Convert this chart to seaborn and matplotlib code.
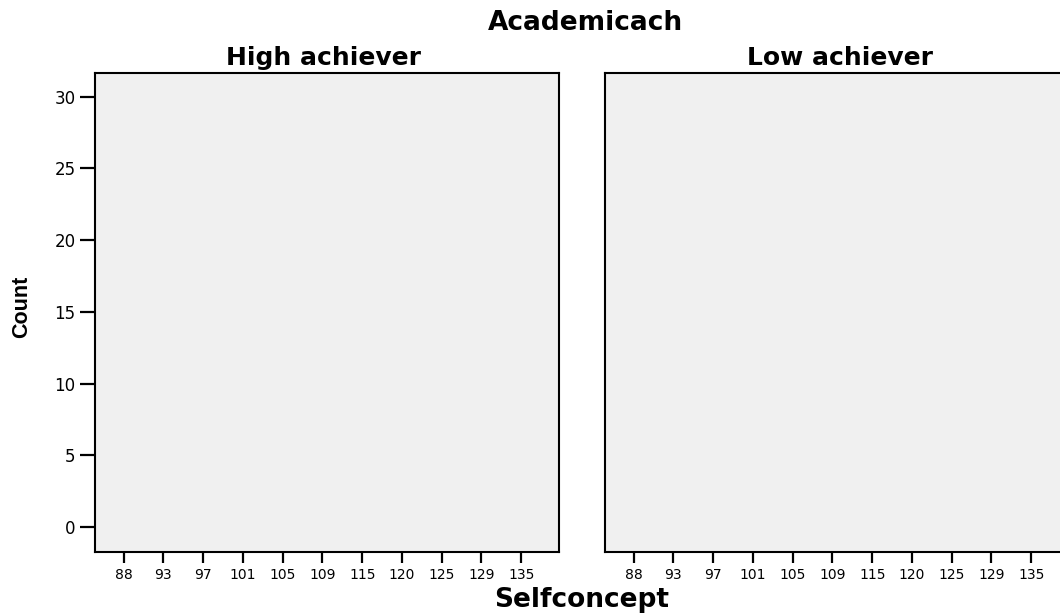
import matplotlib
matplotlib.use("Agg")
import matplotlib.pyplot as plt
import seaborn as sns
import pandas as pd

# Data (both panels are empty in the reference: every count is 0)
selfconcept = ["88", "93", "97", "101", "105", "109", "115", "120", "125", "129", "135"]
high_counts = [0, 0, 0, 0, 0, 0, 0, 0, 0, 0, 0]
low_counts = [0, 0, 0, 0, 0, 0, 0, 0, 0, 0, 0]
groups = ["High achiever", "Low achiever"]
y_ticks = [0, 5, 10, 15, 20, 25, 30]

sns.set_theme(style="white")
plt.rcParams['font.family'] = ['DejaVu Sans']
plt.rcParams['text.color'] = 'black'
plt.rcParams['xtick.color'] = 'black'
plt.rcParams['ytick.color'] = 'black'

W, H = 1060, 614
fig = plt.figure(figsize=(W / 100, H / 100), dpi=100)

def fx(px):
    return px / W

def fy(py):
    return 1 - py / H

ax_top, ax_bot = 73, 552
panel_w = 464
lefts = [95, 605]
title_x = [323, 840]
data = {groups[0]: high_counts, groups[1]: low_counts}

for i, (g, left) in enumerate(zip(groups, lefts)):
    ax = fig.add_axes([fx(left), fy(ax_bot), fx(panel_w), (ax_bot - ax_top) / H])
    df = pd.DataFrame({"Selfconcept": selfconcept, "Count": data[g]})
    sns.barplot(data=df, x="Selfconcept", y="Count", order=selfconcept,
                color="#3e5aa8", linewidth=0, ax=ax)
    ax.set_facecolor("#f0f0f0")
    ax.set_xlim(-0.72, 10.95)
    ax.set_ylim(-1.74, 31.65)
    ax.set_xlabel("")
    ax.set_ylabel("")
    for s in ax.spines.values():
        s.set_visible(True)
        s.set_color("black")
        s.set_linewidth(1.5)
    ax.set_xticks(range(len(selfconcept)))
    ax.set_xticklabels(selfconcept)
    ax.tick_params(axis="x", bottom=True, length=8, width=1.6, color="black",
                   labelsize=10, pad=3.5, labelcolor="black")
    ax.set_yticks(y_ticks)
    if i == 0:
        ax.set_yticklabels([str(v) for v in y_ticks])
        ax.tick_params(axis="y", left=True, length=10.5, width=1.6, color="black",
                       labelsize=12, pad=3.5, labelcolor="black")
    else:
        ax.tick_params(axis="y", left=False, labelleft=False)
    fig.text(fx(title_x[i]), fy(58), g, ha="center", va="center",
             fontsize=18, fontweight="bold", color="black")

fig.text(fx(585), fy(23), "Academicach", ha="center", va="center",
         fontsize=19, fontweight="bold", color="black")
fig.text(fx(582), fy(600), "Selfconcept", ha="center", va="center",
         fontsize=19, fontweight="bold", color="black")
fig.text(fx(22), fy(307), "Count", ha="center", va="center", rotation=90,
         fontsize=15.5, fontweight="bold", color="black",
         family=['Liberation Sans', 'DejaVu Sans'])

fig.savefig("out.png", dpi=100)
